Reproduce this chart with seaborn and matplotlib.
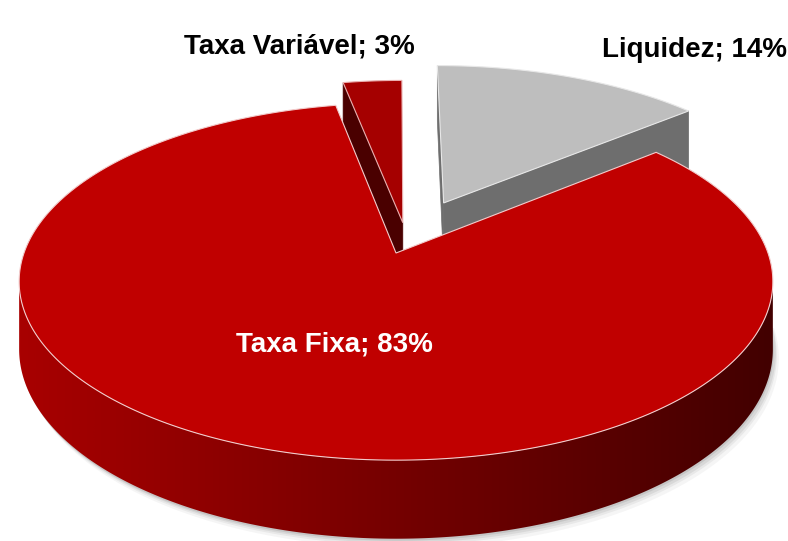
import numpy as np
import matplotlib.pyplot as plt
import seaborn as sns
from matplotlib.colors import LinearSegmentedColormap
from matplotlib.patches import Polygon

# data
labels = ["Liquidez", "Taxa Fixa", "Taxa Variável"]
shares = np.array([14, 83, 3])

# styling per slice
explode = [0.33, 0.0, 0.18]
explode_angle = [66, 0, 84]
top_colors = ["#bebebe", "#c00000", "#a50000"]
wall_ramps = [("#8a8a8a", "#5c5c5c"), ("#a80000", "#420000"), ("#8a0000", "#3e0000")]
side_colors = ["#6e6e6e", "#600000", "#4a0000"]
rim_colors = ["#e8e8e8", "#f2cccc", "#eab0b0"]
label_colors = ["black", "white", "black"]
label_pos = [(695, 57), (334, 351), (299, 53)]

# perspective layout of the pie (pixels)
CX, CY = 396, 253
RX, RY = 372, 174
DEPTH = 66
K = 0.16


def project(u, v, z):
    d = 1 + K * v
    return CX + RX * u / d, CY - (RY * v + DEPTH * (z - 1)) / d


def signed_area(xs, ys):
    xs, ys = np.asarray(xs), np.asarray(ys)
    return 0.5 * np.sum(xs * np.roll(ys, -1) - np.roll(xs, -1) * ys)


sns.set_theme(style="white")
plt.rcParams["font.family"] = ["Liberation Sans", "DejaVu Sans"]

fig = plt.figure(figsize=(7.88, 5.41), dpi=100)
ax = fig.add_axes([0, 0, 1, 1])
ax.set_xlim(0, 788)
ax.set_ylim(541, 0)
ax.axis("off")

frac = shares / shares.sum()
ends = 90 - 360 * np.cumsum(frac)
starts = ends + 360 * frac

# soft shadow under the front of the pie
th = np.radians(np.linspace(180, 360, 200))
sx, sy = project(np.cos(th), np.sin(th), 0)
for dx, dy, a in [(6, 9, 0.05), (4, 6, 0.07), (3, 4, 0.09), (1, 2, 0.12)]:
    ax.fill(sx + dx, sy + dy, color="#404040", alpha=a, lw=0)

# draw farthest slices first
offsets = []
for i in range(len(shares)):
    ang = np.radians(explode_angle[i])
    offsets.append((explode[i] * np.cos(ang), explode[i] * np.sin(ang)))
order = sorted(range(len(shares)), key=lambda i: -offsets[i][1])

for i in order:
    hi, lo = starts[i], ends[i]
    ou, ov = offsets[i]
    n = max(int(abs(hi - lo) * 2), 4)
    th = np.radians(np.linspace(hi, lo, n))
    u = np.r_[ou, ou + np.cos(th), ou]
    v = np.r_[ov, ov + np.sin(th), ov]
    tx, ty = project(u, v, 1)
    bx, by = project(u, v, 0)

    # walls along the outline, kept only when facing the viewer
    arc_vis = []
    for j in range(len(u) - 1):
        qx = [tx[j], tx[j + 1], bx[j + 1], bx[j]]
        qy = [ty[j], ty[j + 1], by[j + 1], by[j]]
        if signed_area(qx, qy) > -0.05:
            continue
        if j == 0 or j == len(u) - 2:
            ax.fill(qx, qy, color=side_colors[i], lw=0.5, ec=side_colors[i])
        else:
            arc_vis.append(j)

    # curved wall as one shape, shaded left to right
    if arc_vis:
        a, b = arc_vis[0], arc_vis[-1] + 1
        wx = np.r_[tx[a:b + 1], bx[a:b + 1][::-1]]
        wy = np.r_[ty[a:b + 1], by[a:b + 1][::-1]]
        wall = Polygon(np.c_[wx, wy], closed=True, fc="none", ec="none")
        ax.add_patch(wall)
        cmap = LinearSegmentedColormap.from_list("wall", list(wall_ramps[i]))
        grad = np.linspace(0, 1, 512)[None, :]
        img = ax.imshow(grad, cmap=cmap, aspect="auto", zorder=1,
                        extent=(wx.min(), wx.max(), wy.max(), wy.min()))
        img.set_clip_path(wall)

    # top face
    ax.fill(tx, ty, fc=top_colors[i], ec=rim_colors[i], lw=0.8)

ax.set_xlim(0, 788)
ax.set_ylim(541, 0)

for i in range(len(shares)):
    ax.text(*label_pos[i], f"{labels[i]}; {shares[i]}%", color=label_colors[i],
            fontsize=20, fontweight="bold", ha="center", va="baseline")

fig.savefig("out.png", dpi=100)
